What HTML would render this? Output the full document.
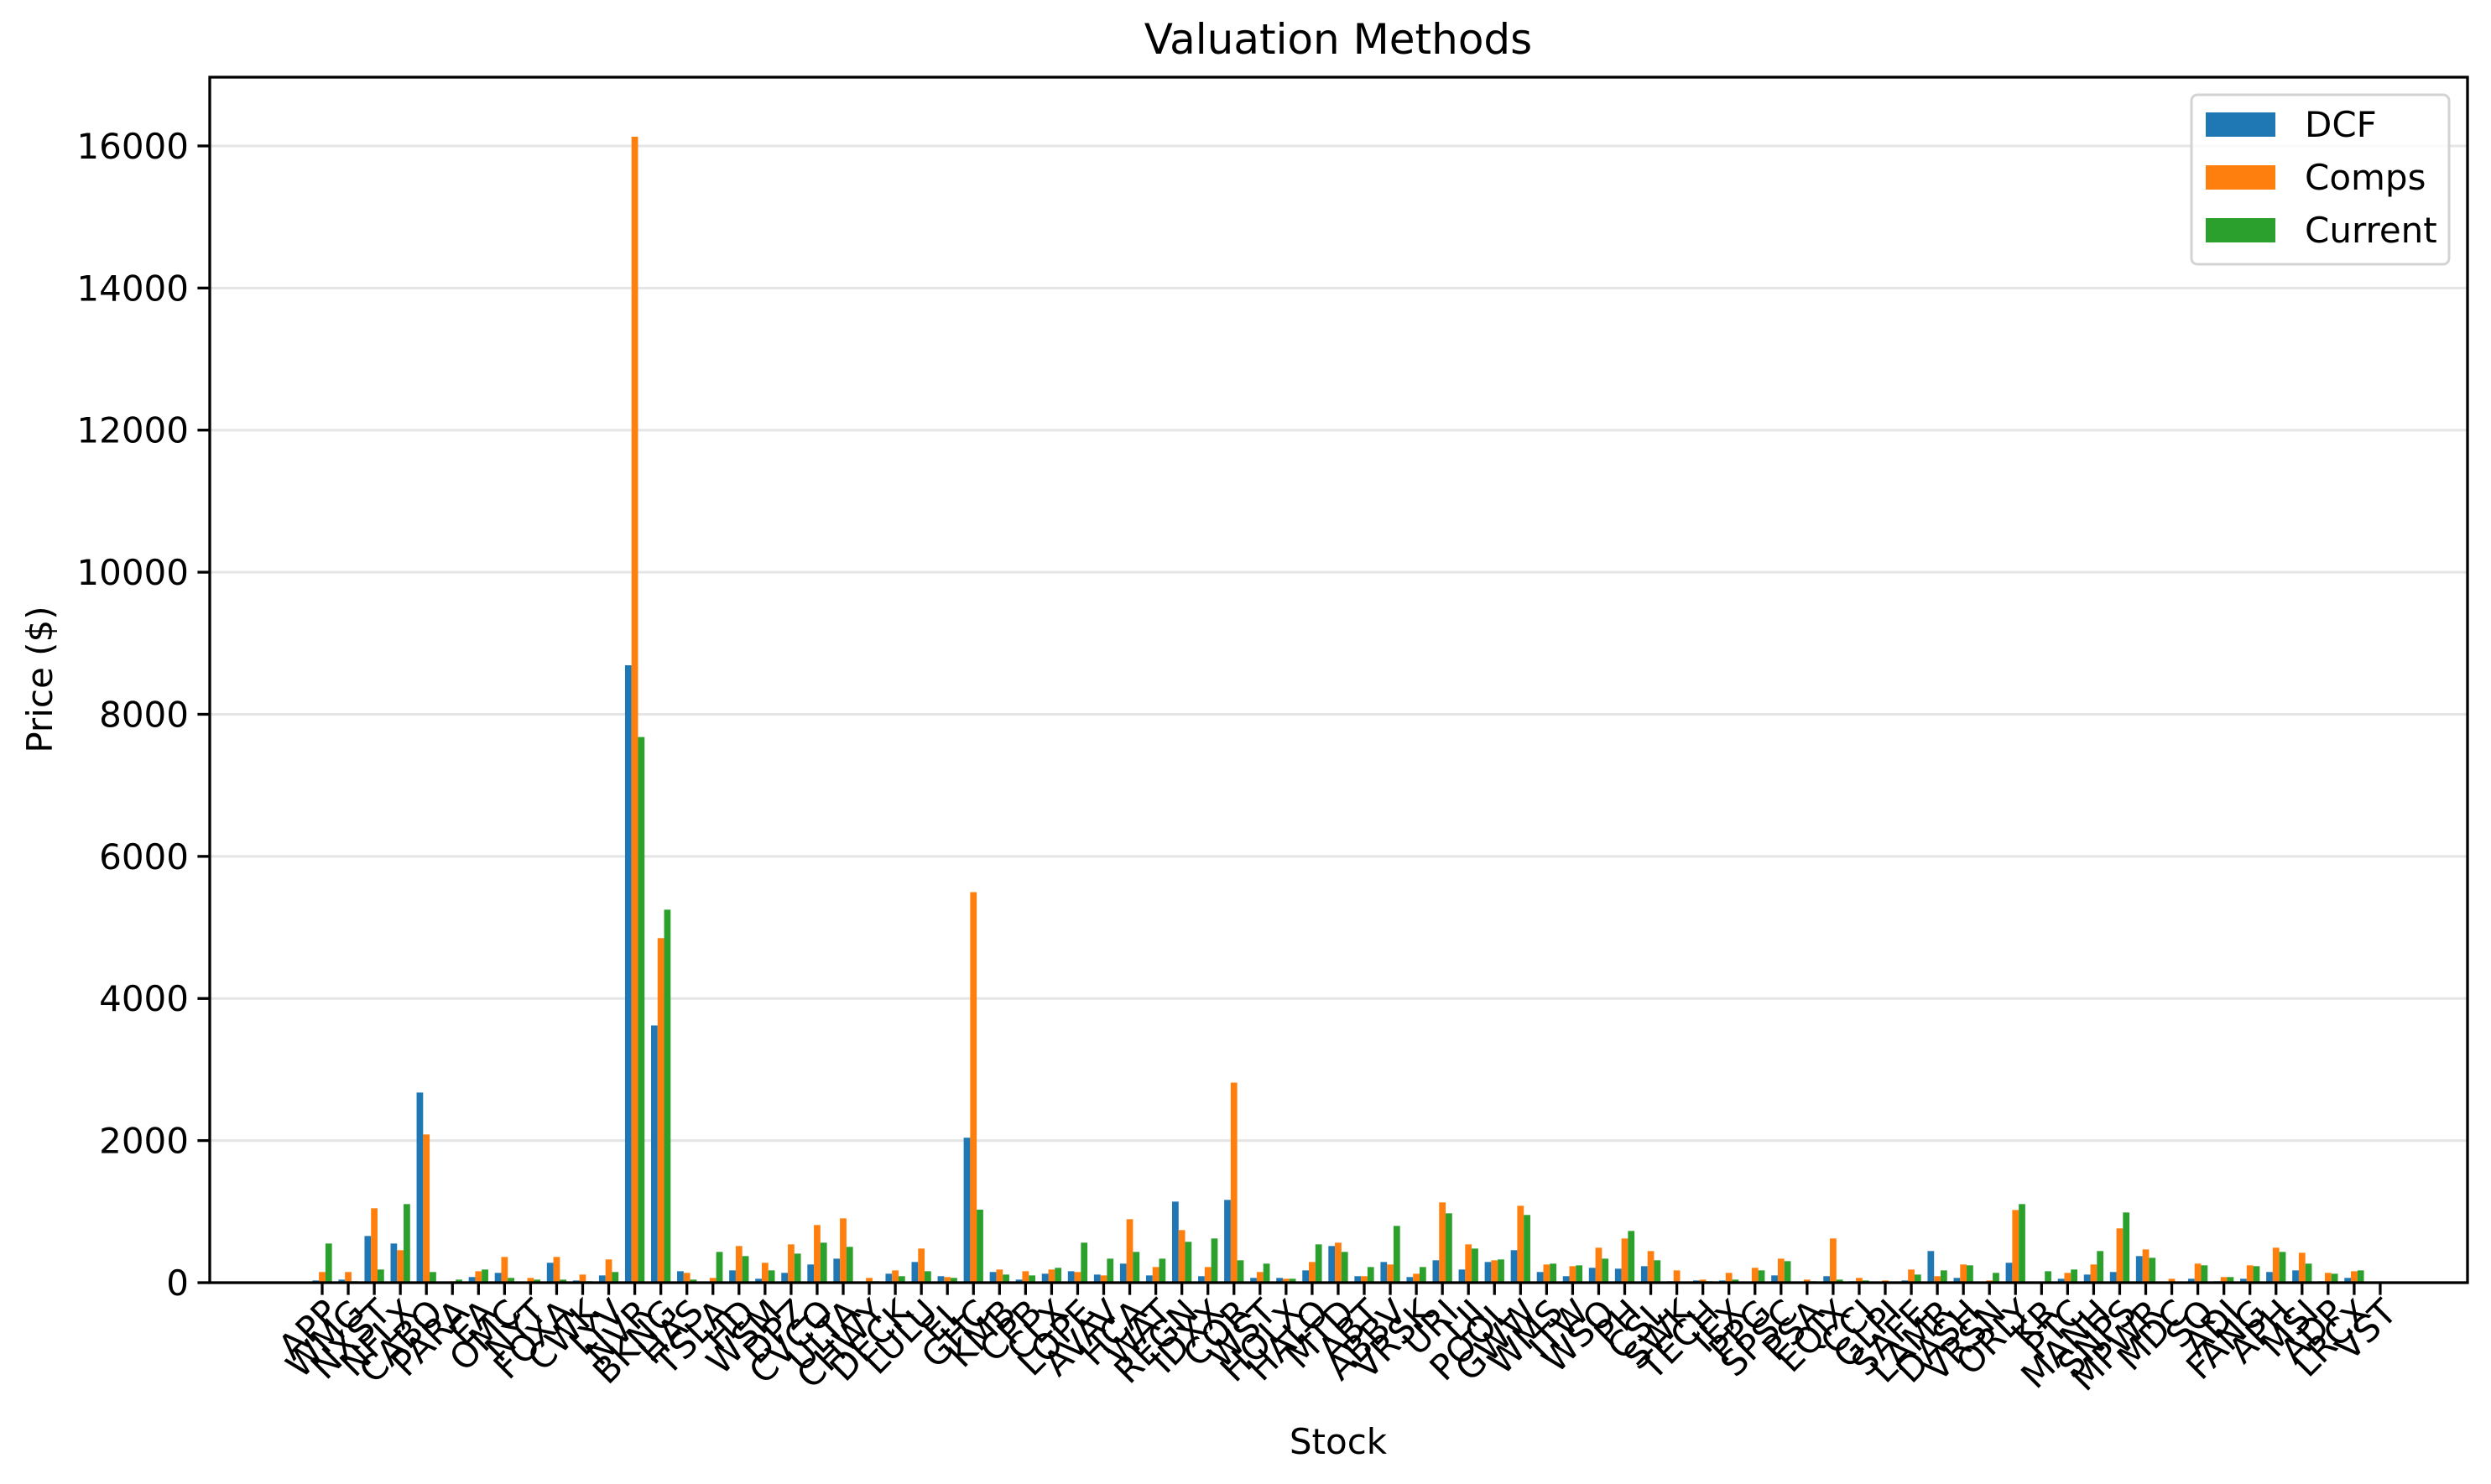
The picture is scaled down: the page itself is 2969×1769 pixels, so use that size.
<!DOCTYPE html>
<html><head><meta charset="utf-8"><title>Valuation Methods</title>
<style>
html,body{margin:0;padding:0;background:#fff;}
svg{display:block;font-family:"DejaVu Sans","Liberation Sans",sans-serif;}
</style></head>
<body>
<svg id="chart" width="2969" height="1769" viewBox="0 0 2969 1769" xmlns="http://www.w3.org/2000/svg">
<rect x="0" y="0" width="2969" height="1769" fill="#fff"/>
<g id="grid"></g>
<g id="bars"></g>
<g id="axes"></g>
<text x="1595" y="64" font-size="50" text-anchor="middle">Valuation Methods</text>
<text x="1595" y="1733" font-size="42" text-anchor="middle">Stock</text>
<text x="0" y="0" font-size="42" text-anchor="middle" transform="translate(62,810) rotate(-90)">Price ($)</text>
<g>
<rect x="2612" y="113" width="307" height="202" rx="7" fill="#fff" fill-opacity="0.8" stroke="#d3d3d3" stroke-width="3"/>
<g><rect x="2629" y="134" width="83" height="29" fill="#1f77b4"/><text x="2747" y="163" font-size="42">DCF</text></g>
<g><rect x="2629" y="197" width="83" height="29" fill="#ff7f0e"/><text x="2747" y="226" font-size="42">Comps</text></g>
<g><rect x="2629" y="260" width="83" height="29" fill="#2ca02c"/><text x="2747" y="289" font-size="42">Current</text></g>
</g>
</svg>
<script>
const stocks = ["APP","WMG","NXST","NFLX","CABO","PARA","EA","OMC","NYT","FOXA","CWK","LYV","NVR","BKNG","HAS","TSLA","HD","WSM","DPZ","CVCO","ULTA","CHWY","DECK","LULU","EL","GHC","KMB","CPB","CLX","LOPE","AVAV","HCA","WAT","REGN","IDXX","COR","WST","HOLX","HALO","MTD","ABT","ABBV","VRSK","URI","LII","POOL","GWW","WMS","ITW","WSO","PH","CSL","SWK","TECH","IEX","PPG","SPSC","PSA","EQIX","CCI","GLPI","SAFE","LAMR","DASH","VRSN","ORLY","KR","PTC","MANH","SNPS","MPWR","MDC","SQ","ADI","FANG","APH","MSI","ADP","LRCX","VST"];
const dcf = [31,43,657,551,2676,8,79,138,8,280,31,102,8690,3620,161,8,173,55,138,256,338,8,126,291,91,2040,150,43,126,161,114,268,102,1141,91,1165,67,67,173,516,91,291,79,315,185,291,457,150,91,209,197,232,20,31,31,8,102,0,91,20,0,31,445,67,8,280,0,55,114,150,374,0,55,20,55,150,173,20,67];
const comps = [150,150,1047,457,2086,20,161,362,67,362,114,327,16130,4850,138,67,516,280,539,811,905,67,173,480,79,5497,185,161,185,150,102,893,220,740,220,2816,150,55,291,563,91,256,126,1130,539,315,1082,256,232,492,622,445,173,43,138,209,338,43,622,67,31,185,91,256,31,1023,0,138,256,764,468,55,268,79,244,492,421,138,161];
const current = [551,20,185,1106,150,43,185,67,43,43,20,150,7680,5250,43,433,374,173,409,563,504,20,91,161,67,1028,114,102,209,563,338,433,338,575,622,315,268,55,539,433,220,799,220,976,480,327,953,268,244,338,728,315,0,20,43,173,303,20,43,31,8,114,173,244,138,1106,161,185,445,988,350,8,244,79,232,433,268,126,173];
const yTicks = [0,2000,4000,6000,8000,10000,12000,14000,16000];

const NS = "http://www.w3.org/2000/svg";
const L = 250, R = 2941, T = 92, B = 1529;
const X0 = 384, STEP = 31.05;
function xPos(i){ return X0 + i*STEP; }
function yPos(v){ return B - v*0.08469; }
function mk(tag, attrs, parent){ const e=document.createElementNS(NS,tag); for(const k in attrs) e.setAttribute(k,attrs[k]); parent.appendChild(e); return e; }

const grid = document.getElementById('grid');
const axes = document.getElementById('axes');
const bars = document.getElementById('bars');

yTicks.forEach(v=>{
  const y = yPos(v);
  const g = mk('line',{x1:L,x2:R,y1:y,y2:y,stroke:'#e5e5e5','stroke-width':3},grid);
  
  
  const t = mk('line',{x1:L-14.6,x2:L,y1:y,y2:y,stroke:'#000','stroke-width':3.3},axes);
  
  
  const lb = mk('text',{x:L-25,y:y+15,'font-size':42,'text-anchor':'end'},axes);
  lb.textContent = String(v);
  
  
});

const series = [[dcf,'#1f77b4',-1,'dcf'],[comps,'#ff7f0e',0,'comps'],[current,'#2ca02c',1,'current']];
const bw = 0.25*STEP;
stocks.forEach((s,i)=>{
  const cx = xPos(i);
  series.forEach(([arr,col,off,nm])=>{
    const v = arr[i];
    const y = yPos(v);
    const r = mk('rect',{x:cx+off*bw-bw/2,y:y,width:bw,height:Math.max(0,B-y),fill:col},bars);
    
    
  });
  const tk = mk('line',{x1:cx,x2:cx,y1:B,y2:B+14.6,stroke:'#000','stroke-width':3.3},axes);
  
  
  const lb = mk('text',{'font-size':42,'text-anchor':'end',transform:'translate('+(cx+22)+','+(B+38)+') rotate(-45)'},axes);
  lb.textContent = s;
  
  
});

const fr = mk('rect',{x:L,y:T,width:R-L,height:B-T,fill:'none',stroke:'#000','stroke-width':3.3},axes);


</script>
</body></html>
